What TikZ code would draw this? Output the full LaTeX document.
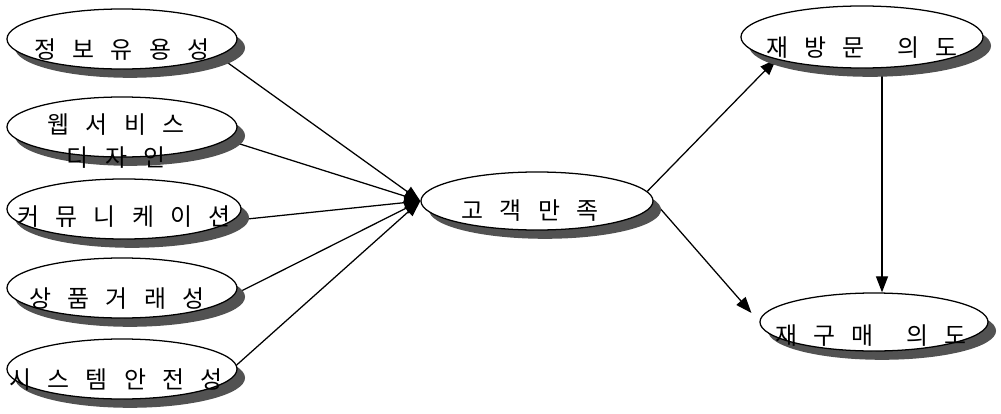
\documentclass[tikz,border=0pt]{standalone}
\usepackage{fontspec}
\usetikzlibrary{shapes.geometric,shadows,arrows.meta}
\newfontfamily\kr{Noto Sans CJK KR}[WordSpace=3.0]
\pgfdeclarelayer{background}
\pgfsetlayers{background,main}

\begin{document}
\begin{tikzpicture}[x=0.025cm, y=-0.025cm,
  every node/.style={font=\kr\fontsize{17pt}{24pt}\selectfont},
  oval/.style={ellipse, draw, fill=white, line width=0.9pt, inner sep=0pt,
    minimum width=5.75cm, minimum height=1.5cm,
    drop shadow={shadow xshift=0.2cm, shadow yshift=-0.22cm, fill=black!68, opacity=1}},
  word/.style={inner sep=0pt, align=center},
  arr/.style={-{Triangle[length=0.4cm,width=0.3cm]}, line width=0.9pt}]

\useasboundingbox (0,0) rectangle (1001,414);

% --------- Antecedents (left column) ----------
\node[oval] (info)  at (122,39)  {};
\node[oval] (web)   at (122,127) {};
\node[oval, minimum width=5.85cm] (comm) at (124,209) {};
\node[oval] (trade) at (122,288) {};
\node[oval] (sys)   at (122,369) {};

\node[word] (info-t)  at (122,50)  {정 보 유 용 성};
\node[word] (web-t)   at (116,141) {웹 서 비 스\\디 자 인};
\node[word] (comm-t)  at (124,217) {커 뮤 니 케 이 션};
\node[word] (trade-t) at (117,299) {상 품 거 래 성};
\node[word] (sys-t)   at (116,380) {시 스 템 안 전 성};

% --------- Mediator ----------
\node[oval, minimum width=5.8cm, minimum height=1.45cm] (sat) at (537,201) {};
\node[word] (sat-t) at (530,211) {고 객 만 족};

% --------- Outcomes (right column) ----------
\node[oval, minimum width=6.05cm, minimum height=1.55cm] (revisit) at (862,37) {};
\node[oval, minimum width=5.7cm, minimum height=1.45cm] (rebuy) at (874,322) {};

\node[word] (revisit-t) at (862,48)  {재 방 문~ 의 도};
\node[word] (rebuy-t)   at (871,336) {재 구 매~ 의 도};

% --------- Paths (behind the shadows) ----------
\begin{pgfonlayer}{background}
\draw[arr] (info.-10) -- (sat.west);
\draw[arr] (web.-7)   -- (sat.west);
\draw[arr] (comm.-6)  -- (sat.west);
\draw[arr] (trade.-3) -- (sat.west);
\draw[arr] (sys.2)    -- (sat.west);

\draw[arr] (sat.5) -- (revisit.south west);
\draw[arr, shorten >=0.3cm] (sat.east) -- (rebuy.west);
\draw[arr] ([xshift=0.5cm]revisit.south) -- ([xshift=0.5cm]revisit.south |- rebuy.north);
\end{pgfonlayer}

\end{tikzpicture}
\end{document}
